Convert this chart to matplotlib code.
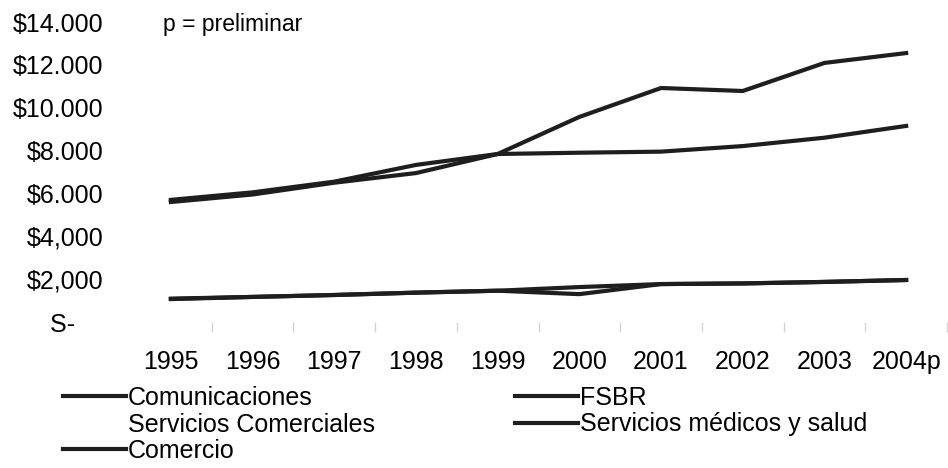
import matplotlib.pyplot as plt
from matplotlib.lines import Line2D

# years on the category axis
years = ['1995', '1996', '1997', '1998', '1999', '2000', '2001', '2002', '2003', '2004p']

# values (dollars)
comunicaciones = [5600, 5950, 6500, 6950, 7840, 9570, 10920, 10780, 12090, 12550]
fsbr = [5700, 6050, 6550, 7330, 7840, 7900, 7950, 8210, 8600, 9150]
servicios_medicos = [1070, 1170, 1260, 1370, 1460, 1630, 1770, 1800, 1870, 1960]
comercio = [1090, 1170, 1260, 1370, 1460, 1300, 1770, 1800, 1870, 1960]

y_ticks = [0, 2000, 4000, 6000, 8000, 10000, 12000, 14000]
y_labels = ['S-    ', '$2,000', '$4,000', '$6.000', '$8.000', '$10.000', '$12.000', '$14.000']

plt.rcParams['font.family'] = ['Liberation Sans', 'DejaVu Sans']

fig = plt.figure(figsize=(9.48, 4.68), dpi=100)
ax = fig.add_axes([130 / 948, (468 - 322) / 468, 817 / 948, 300 / 468])

line_color = '#1e1e1e'
x = list(range(len(years)))
ax.plot(x, comunicaciones, color=line_color, linewidth=3)
ax.plot(x, fsbr, color=line_color, linewidth=3)
ax.plot(x, servicios_medicos, color=line_color, linewidth=3)
ax.plot(x, comercio, color=line_color, linewidth=3)

ax.set_xlim(-0.5, len(years) - 0.5)
ax.set_ylim(0, 14000)
ax.set_xticks(x)
ax.set_xticklabels(years, fontsize=18)
ax.set_xticks([i + 0.5 for i in range(len(years))], minor=True)
ax.set_yticks(y_ticks)
ax.set_yticklabels(y_labels, fontsize=18)
ax.tick_params(axis='x', which='major', length=0, pad=20)
ax.tick_params(axis='x', which='minor', length=7, width=1, color='#d4d4d4')
ax.tick_params(axis='y', length=0, pad=19)
for s in ax.spines.values():
    s.set_visible(False)

fig.text(163 / 948, (468 - 25) / 468, 'p = preliminar', fontsize=16.5, va='center', ha='left')

# legend: Servicios Comerciales has no visible line in the source
handles = [
    Line2D([], [], color=line_color, linewidth=3),
    Line2D([], [], color='white', linewidth=3),
    Line2D([], [], color=line_color, linewidth=3),
    Line2D([], [], color=line_color, linewidth=3),
    Line2D([], [], color=line_color, linewidth=3),
]
labels = ['Comunicaciones', 'Servicios Comerciales', 'Comercio', 'FSBR', 'Servicios médicos y salud']
fig.legend(handles, labels, loc='upper left', bbox_to_anchor=(63 / 948, (468 - 386) / 468),
           ncol=2, frameon=False, fontsize=18, handlelength=2.5, handletextpad=0.1,
           columnspacing=5.6, labelspacing=0.1, borderpad=0, borderaxespad=0)

plt.savefig('out.png', dpi=100)
